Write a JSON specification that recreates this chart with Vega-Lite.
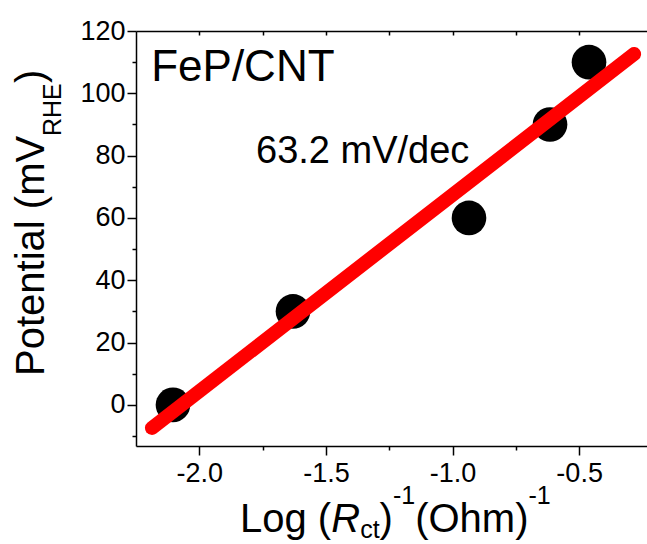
{
  "$schema": "https://vega.github.io/schema/vega-lite/v6.json",
  "width": 511,
  "height": 415,
  "autosize": {"type": "none"},
  "padding": {"left": 136, "top": 31, "right": 0, "bottom": 98},
  "background": "white",
  "config": {
    "view": {"stroke": null},
    "axis": {
      "grid": false,
      "title": null,
      "labelFont": "Liberation Sans",
      "labelFontSize": 27,
      "labelColor": "black",
      "tickColor": "black",
      "domainColor": "black",
      "tickWidth": 1.5,
      "domainWidth": 1.5,
      "labelFlush": false,
      "labelOverlap": false
    },
    "text": {"font": "Liberation Sans", "color": "black"}
  },
  "resolve": {"axis": {"x": "independent", "y": "independent"}},
  "layer": [
    {
      "data": {"values": [
        {"x": -2.104, "y": 0},
        {"x": -1.630, "y": 30},
        {"x": -0.935, "y": 60},
        {"x": -0.615, "y": 90},
        {"x": -0.461, "y": 110}
      ]},
      "mark": {"type": "circle", "size": 1200, "color": "black", "opacity": 1},
      "encoding": {
        "x": {"field": "x", "type": "quantitative", "scale": {"domain": [-2.25, -0.232], "nice": false, "zero": false},
              "axis": {"orient": "bottom", "values": [-1.75, -1.25, -0.75], "labels": false, "tickSize": 4, "domain": false}},
        "y": {"field": "y", "type": "quantitative", "scale": {"domain": [-13.2, 120], "nice": false, "zero": false},
              "axis": {"orient": "left", "values": [-10, 10, 30, 50, 70, 90, 110], "labels": false, "tickSize": 4, "domain": false}}
      }
    },
    {
      "data": {"values": [
        {"x": -2.187, "y": -7.4},
        {"x": -0.283, "y": 112.6}
      ]},
      "mark": {"type": "line", "color": "#ff0000", "strokeWidth": 14, "strokeCap": "round"},
      "encoding": {
        "x": {"field": "x", "type": "quantitative", "scale": {"domain": [-2.25, -0.232], "nice": false, "zero": false},
              "axis": {"orient": "bottom", "values": [-2, -1.5, -1, -0.5], "tickSize": 9, "labelPadding": 5,
                       "labelExpr": "replace(format(datum.value, '.1f'), '\u2212', '-')"}},
        "y": {"field": "y", "type": "quantitative", "scale": {"domain": [-13.2, 120], "nice": false, "zero": false},
              "axis": {"orient": "left", "values": [0, 20, 40, 60, 80, 100, 120], "tickSize": 9, "labelPadding": 2}}
      }
    },
    {
      "data": {"values": [{"x": -2.19, "y": 103.95, "t": "FeP/CNT"}]},
      "mark": {"type": "text", "fontSize": 44, "align": "left", "baseline": "alphabetic"},
      "encoding": {
        "x": {"field": "x", "type": "quantitative", "scale": {"domain": [-2.25, -0.232], "nice": false, "zero": false},
              "axis": {"orient": "top", "values": [-2, -1.75, -1.5, -1.25, -1, -0.75, -0.5], "labels": false, "tickSize": -4, "domain": true}},
        "y": {"field": "y", "type": "quantitative", "scale": {"domain": [-13.2, 120], "nice": false, "zero": false}, "axis": null},
        "text": {"field": "t"}
      }
    },
    {
      "data": {"values": [{"x": -1.776, "y": 77.6, "t": "63.2 mV/dec"}]},
      "mark": {"type": "text", "fontSize": 38, "align": "left", "baseline": "alphabetic"},
      "encoding": {
        "x": {"field": "x", "type": "quantitative", "scale": {"domain": [-2.25, -0.232], "nice": false, "zero": false}, "axis": null},
        "y": {"field": "y", "type": "quantitative", "scale": {"domain": [-13.2, 120], "nice": false, "zero": false}, "axis": null},
        "text": {"field": "t"}
      }
    },
    {
      "data": {"values": [
        {"x": -1.8393, "y": -40.78, "t": "Log ("},
        {"x": -1.2879, "y": -40.78, "t": ")"},
        {"x": -1.1477, "y": -40.78, "t": "(Ohm)"}
      ]},
      "mark": {"type": "text", "fontSize": 40, "align": "left", "baseline": "alphabetic"},
      "encoding": {
        "x": {"field": "x", "type": "quantitative", "scale": {"domain": [-2.25, -0.232], "nice": false, "zero": false}, "axis": null},
        "y": {"field": "y", "type": "quantitative", "scale": {"domain": [-13.2, 120], "nice": false, "zero": false}, "axis": null},
        "text": {"field": "t"}
      }
    },
    {
      "data": {"values": [{"x": -1.4791, "y": -40.78, "t": "R"}]},
      "mark": {"type": "text", "fontSize": 40, "fontStyle": "italic", "align": "left", "baseline": "alphabetic"},
      "encoding": {
        "x": {"field": "x", "type": "quantitative", "scale": {"domain": [-2.25, -0.232], "nice": false, "zero": false}, "axis": null},
        "y": {"field": "y", "type": "quantitative", "scale": {"domain": [-13.2, 120], "nice": false, "zero": false}, "axis": null},
        "text": {"field": "t"}
      }
    },
    {
      "data": {"values": [{"x": -1.3649, "y": -42.71, "t": "ct"}]},
      "mark": {"type": "text", "fontSize": 25, "align": "left", "baseline": "alphabetic"},
      "encoding": {
        "x": {"field": "x", "type": "quantitative", "scale": {"domain": [-2.25, -0.232], "nice": false, "zero": false}, "axis": null},
        "y": {"field": "y", "type": "quantitative", "scale": {"domain": [-13.2, 120], "nice": false, "zero": false}, "axis": null},
        "text": {"field": "t"}
      }
    },
    {
      "data": {"values": [
        {"x": -1.2354, "y": -31.8, "t": "-1"},
        {"x": -0.7002, "y": -31.8, "t": "-1"}
      ]},
      "mark": {"type": "text", "fontSize": 25, "align": "left", "baseline": "alphabetic"},
      "encoding": {
        "x": {"field": "x", "type": "quantitative", "scale": {"domain": [-2.25, -0.232], "nice": false, "zero": false}, "axis": null},
        "y": {"field": "y", "type": "quantitative", "scale": {"domain": [-13.2, 120], "nice": false, "zero": false}, "axis": null},
        "text": {"field": "t"}
      }
    },
    {
      "data": {"values": [
        {"x": -2.6133, "y": 9.28, "t": "Potential (mV"},
        {"x": -2.6133, "y": 103.3, "t": ")"}
      ]},
      "mark": {"type": "text", "fontSize": 40, "angle": 270, "align": "left", "baseline": "alphabetic"},
      "encoding": {
        "x": {"field": "x", "type": "quantitative", "scale": {"domain": [-2.25, -0.232], "nice": false, "zero": false}, "axis": null},
        "y": {"field": "y", "type": "quantitative", "scale": {"domain": [-13.2, 120], "nice": false, "zero": false}, "axis": null},
        "text": {"field": "t"}
      }
    },
    {
      "data": {"values": [{"x": -2.5462, "y": 86.3, "t": "RHE"}]},
      "mark": {"type": "text", "fontSize": 25, "angle": 270, "align": "left", "baseline": "alphabetic"},
      "encoding": {
        "x": {"field": "x", "type": "quantitative", "scale": {"domain": [-2.25, -0.232], "nice": false, "zero": false}, "axis": null},
        "y": {"field": "y", "type": "quantitative", "scale": {"domain": [-13.2, 120], "nice": false, "zero": false}, "axis": null},
        "text": {"field": "t"}
      }
    }
  ]
}
